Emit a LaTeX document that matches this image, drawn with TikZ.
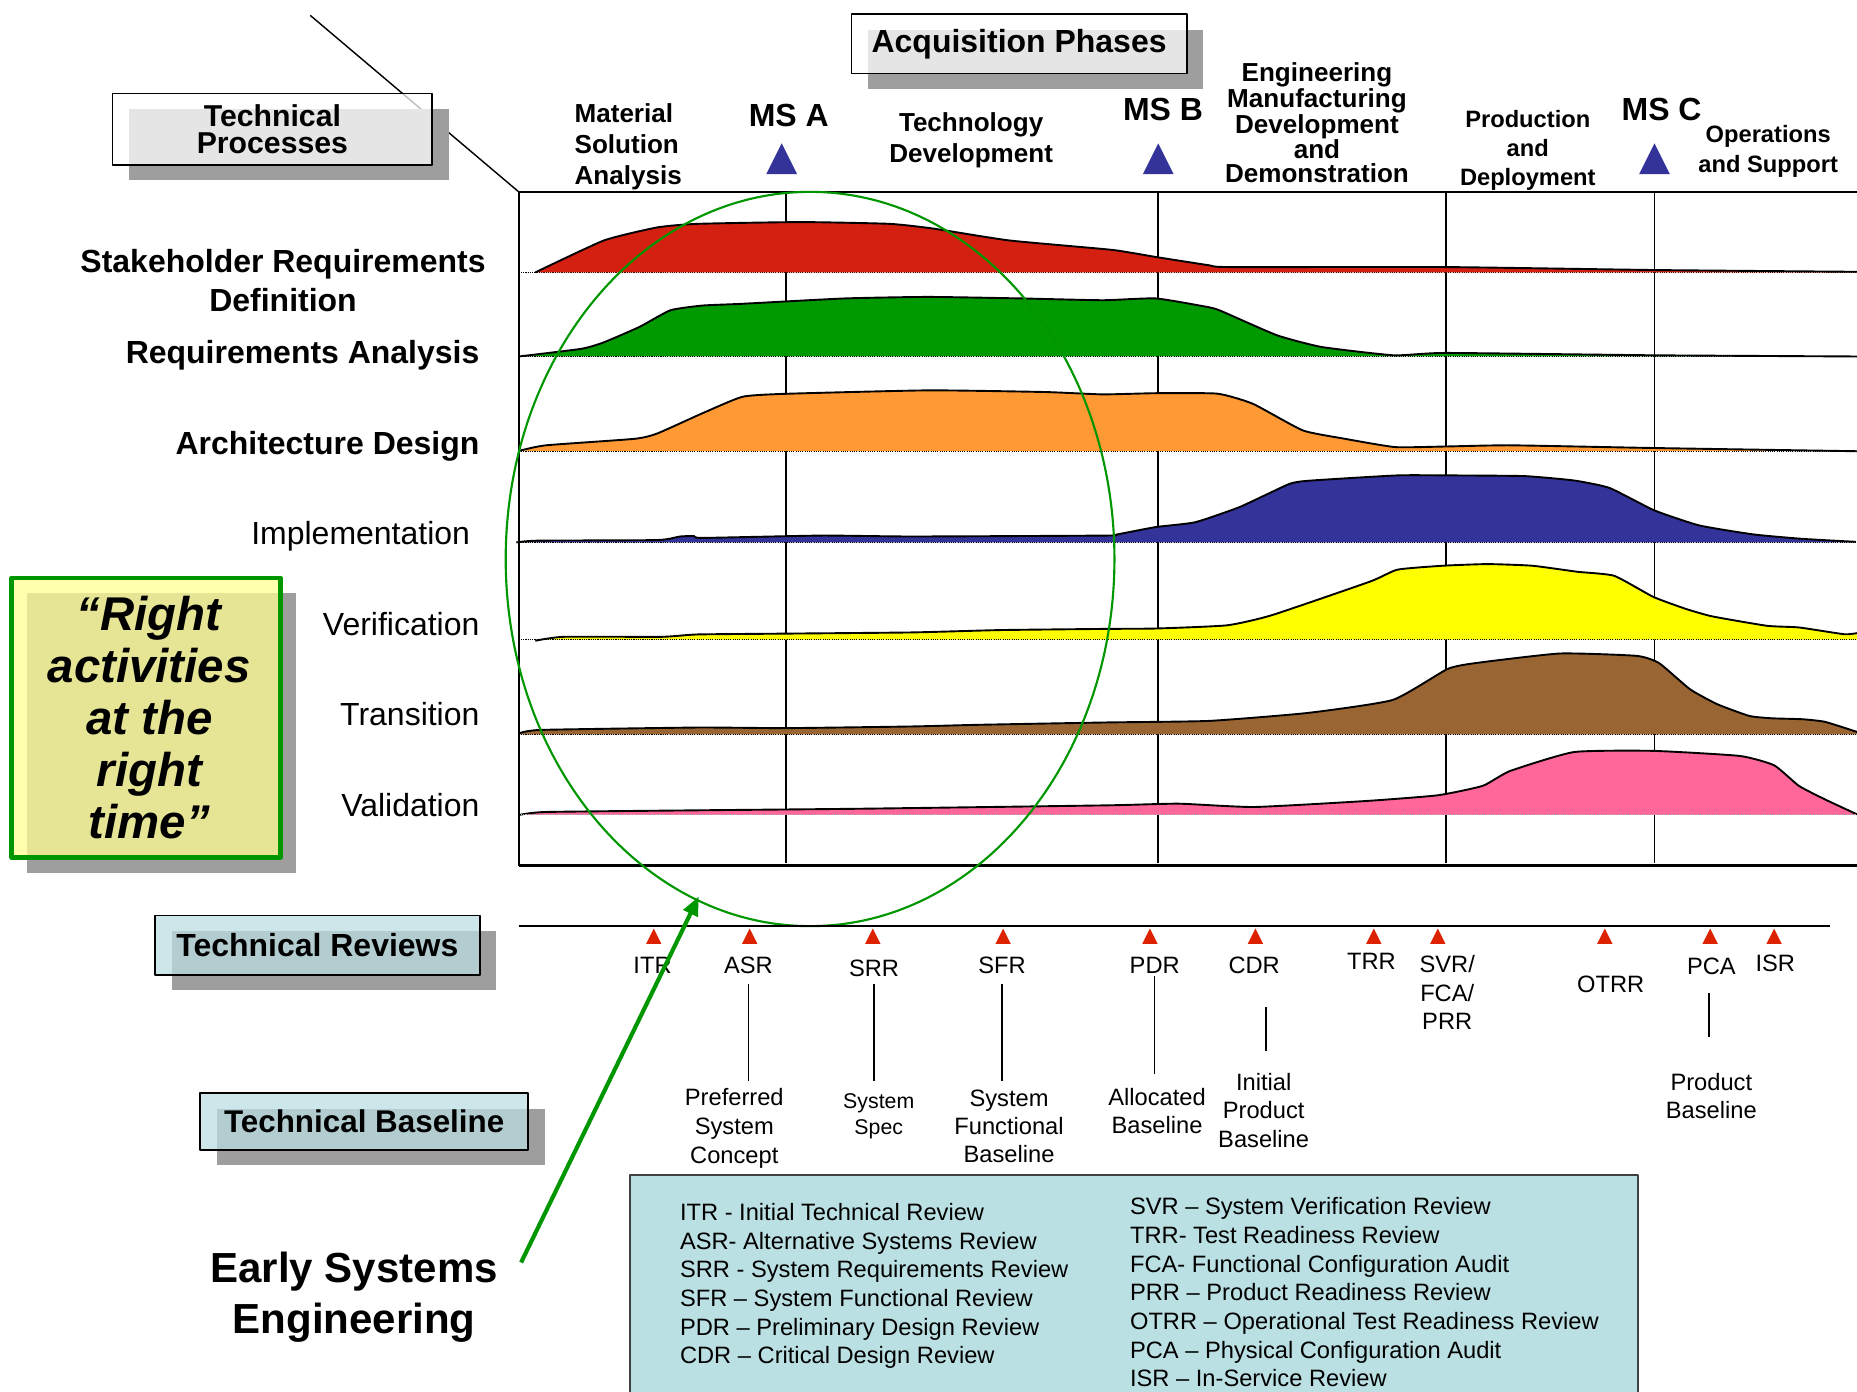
\documentclass[tikz,border=0pt]{standalone}
\usepackage{fontspec}
\setmainfont{Liberation Sans}
\usetikzlibrary{arrows.meta,shadows}
\definecolor{cRed}{RGB}{212,32,16}
\definecolor{cGreen}{RGB}{0,153,0}
\definecolor{cOrange}{RGB}{255,153,51}
\definecolor{cBlue}{RGB}{51,51,153}
\definecolor{cYellow}{RGB}{255,255,0}
\definecolor{cBrown}{RGB}{153,102,51}
\definecolor{cPink}{RGB}{255,102,153}
\definecolor{ringGreen}{RGB}{0,150,0}
\definecolor{shadowGray}{RGB}{158,158,158}
\definecolor{boxBlue}{RGB}{186,221,226}
\definecolor{legendBlue}{RGB}{187,224,227}
\definecolor{noteYellow}{RGB}{255,255,146}
\definecolor{revRed}{RGB}{221,34,0}
\newcommand\myfs[2]{\fontsize{#1pt}{#2pt}\selectfont}
\begin{document}
\begin{tikzpicture}[x=1pt,y=-1pt,line join=round,
  phase/.style={font=\myfs{22}{26.5}\bfseries, align=center, inner sep=0},
  msl/.style={font=\myfs{27}{30}\bfseries, inner sep=0, anchor=base},
  proc/.style={font=\myfs{27}{33}\bfseries, inner sep=0, anchor=base east},
  procr/.style={font=\myfs{27}{33}, inner sep=0, anchor=base east},
  rev/.style={font=\myfs{20}{24}, inner sep=0, anchor=base, align=center},
  bsl/.style={font=\myfs{20}{24}, inner sep=0, anchor=north, align=center},
  legend/.style={font=\myfs{20}{24.2}, inner sep=0, anchor=north west, align=left},
  titlebox/.style={draw=black, line width=1.5pt, fill=#1, fill opacity=.74, text opacity=1,
     font=\myfs{27}{21}\bfseries, align=center, inner sep=0,
     drop shadow={shadow xshift=14pt, shadow yshift=-13pt, fill=shadowGray, opacity=1, fill opacity=1, draw=none}},
  curve/.style={line width=1.6pt},
  frame/.style={line width=1.6pt},
  base/.style={densely dotted, line width=0.9pt},
  conn/.style={line width=1.1pt},
  ]
\useasboundingbox (0,0) rectangle (1568,1175);

% ---- diagonal line and chart frame ----
\coordinate (corner) at (438,162);
\draw[line width=1.2pt] (262,13) -- (corner);
\foreach \x in {664,978,1221,1397} \draw[frame] (\x,162) -- (\x,729);

% ---- process bands ----
\draw[base] (438,230) -- (1568,230);
\fill[cRed] (452,230) -- plot[smooth,tension=.3] coordinates {(452,230) (510,203) (555,192) (589,189) (676,187.5) (751,189) (788,193) (852,203) (939,211) (976,217) (1021,224) (1038,225.5) (1221,225.5) (1397,228) (1568,229.5)} -- (1568,230) -- cycle;
\draw[curve] plot[smooth,tension=.3] coordinates {(452,230) (510,203) (555,192) (589,189) (676,187.5) (751,189) (788,193) (852,203) (939,211) (976,217) (1021,224) (1038,225.5) (1221,225.5) (1397,228) (1568,229.5)};

\fill[cGreen] (438,301) -- plot[smooth,tension=.3] coordinates {(438,301) (491,294.5) (510,289) (540,276) (566,262) (593,258) (627,256.5) (713,252) (784,250.7) (863,252) (931,253.5) (976,252) (1021,259.5) (1032,263) (1078,283) (1116,293) (1177,300) (1221,298) (1397,300) (1568,301)} -- (1568,301) -- cycle;
\draw[curve] plot[smooth,tension=.3] coordinates {(438,301) (491,294.5) (510,289) (540,276) (566,262) (593,258) (627,256.5) (713,252) (784,250.7) (863,252) (931,253.5) (976,252) (1021,259.5) (1032,263) (1078,283) (1116,293) (1177,300) (1221,298) (1397,300) (1568,301)};

\fill[cOrange] (439,381) -- plot[smooth,tension=.3] coordinates {(439,380.5) (461,376) (536,370.5) (555,366) (593,349) (627,335) (664,332.5) (784,329.6) (882,331) (931,333) (976,332) (1028,332.4) (1058,341) (1100,363.4) (1135,370.4) (1178,377.5) (1221,377) (1275,376) (1397,378.3) (1568,381)} -- (1568,381) -- cycle;
\draw[curve] plot[smooth,tension=.3] coordinates {(439,380.5) (461,376) (536,370.5) (555,366) (593,349) (627,335) (664,332.5) (784,329.6) (882,331) (931,333) (976,332) (1028,332.4) (1058,341) (1100,363.4) (1135,370.4) (1178,377.5) (1221,377) (1275,376) (1397,378.3) (1568,381)};

\fill[cBlue] (436,458) -- plot[smooth,tension=.3] coordinates {(436,458) (454,456.5) (555,456) (574,453) (586,452.6) (593,454.2) (694,452.2) (770,453) (935,452.2) (943,451.3) (976,445) (1009,441) (1047,428) (1089,408.5) (1108,405.7) (1180,401.4) (1221,401.4) (1287,402) (1329,405.7) (1359,412) (1397,431) (1435,443.7) (1481,451.3) (1522,455) (1567,457.5)} -- (1567,458) -- cycle;
\draw[curve] plot[smooth,tension=.3] coordinates {(436,458) (454,456.5) (555,456) (574,453) (586,452.6) (593,454.2) (694,452.2) (770,453) (935,452.2) (943,451.3) (976,445) (1009,441) (1047,428) (1089,408.5) (1108,405.7) (1180,401.4) (1221,401.4) (1287,402) (1329,405.7) (1359,412) (1397,431) (1435,443.7) (1481,451.3) (1522,455) (1567,457.5)};

\fill[cYellow] (452,541) -- plot[smooth,tension=.3] coordinates {(452,541) (476,537.7) (559,537.7) (589,535.7) (664,535) (770,534) (845,532) (935,531) (976,530.7) (1036,528) (1074,519.4) (1157,491) (1180,481) (1218,477.7) (1256,476.3) (1294,477.7) (1332,482.8) (1363,486.2) (1396,504) (1424,514.3) (1446,520.5) (1492,528.4) (1519,529.8) (1557,535.5) (1568,534.6)} -- (1568,540) -- (452,540) -- cycle;
\draw[curve] plot[smooth,tension=.3] coordinates {(452,541) (476,537.7) (559,537.7) (589,535.7) (664,535) (770,534) (845,532) (935,531) (976,530.7) (1036,528) (1074,519.4) (1157,491) (1180,481) (1218,477.7) (1256,476.3) (1294,477.7) (1332,482.8) (1363,486.2) (1396,504) (1424,514.3) (1446,520.5) (1492,528.4) (1519,529.8) (1557,535.5) (1568,534.6)};

\fill[cBrown] (439,620) -- plot[smooth,tension=.3] coordinates {(439,619) (457,616.3) (589,614.3) (664,614.8) (770,613.4) (826,612) (935,610) (1021,608.7) (1104,602) (1176,591) (1222,565) (1245,560) (1317,551.8) (1382,553.8) (1401,560) (1427,582) (1450,594.6) (1477,604.5) (1496,606.5) (1522,607.3) (1541,609.5) (1568,618)} -- (1568,620) -- cycle;
\draw[curve] plot[smooth,tension=.3] coordinates {(439,619) (457,616.3) (589,614.3) (664,614.8) (770,613.4) (826,612) (935,610) (1021,608.7) (1104,602) (1176,591) (1222,565) (1245,560) (1317,551.8) (1382,553.8) (1401,560) (1427,582) (1450,594.6) (1477,604.5) (1496,606.5) (1522,607.3) (1541,609.5) (1568,618)};

\fill[cPink] (439,688) -- plot[smooth,tension=.3] coordinates {(439,688) (461,685.6) (589,684.2) (732,682.8) (935,680) (995,678.6) (1059,681.4) (1154,676.3) (1214,671.5) (1252,663.5) (1275,651) (1329,635) (1396,634) (1469,638.3) (1498,646.2) (1519,663.6) (1541,675) (1568,687.6)} -- (1568,688) -- cycle;
\draw[curve] plot[smooth,tension=.3] coordinates {(439,688) (461,685.6) (589,684.2) (732,682.8) (935,680) (995,678.6) (1059,681.4) (1154,676.3) (1214,671.5) (1252,663.5) (1275,651) (1329,635) (1396,634) (1469,638.3) (1498,646.2) (1519,663.6) (1541,675) (1568,687.6)};

\foreach \y in {301,381,458,540,620} \draw[base] (438,\y) -- (1568,\y);
\draw[base, white!70!black] (438,688) -- (1568,688);

\draw[frame] (438,162) -- (1568,162);
\draw[frame] (438,162) -- (438,731);
\draw[line width=2.4pt] (438,731) -- (1568,731);

% ---- early SE ellipse ----
\draw[ringGreen, line width=1.8pt] (684,472) ellipse [x radius=257pt, y radius=310pt];

% ---- acquisition phase header ----
\node[titlebox=white, minimum width=283pt, minimum height=50pt] (acq) at (860.5,37) {Acquisition Phases};
\node[phase, anchor=north west, align=left] (msa) at (485,87) {Material\\Solution\\Analysis};
\node[msl] (msA) at (666,106.5) {MS A};
\node[phase, anchor=north, font=\myfs{22}{26}\bfseries] (tdev) at (820,95) {Technology\\Development};
\node[msl] (msB) at (982,101.5) {MS B};
\node[phase, anchor=north, font=\myfs{22}{20}\bfseries] (emd) at (1112,53) {Engineering\\Manufacturing\\Development\\and\\Demonstration};
\node[phase, anchor=north, font=\myfs{20}{24.5}\bfseries] (pdep) at (1290,93) {Production\\and\\Deployment};
\node[msl] (msC) at (1403,101.5) {MS C};
\node[phase, anchor=north, font=\myfs{20}{25}\bfseries] (ops) at (1493,106) {Operations\\and Support};
\fill[cBlue] (647,147) -- (660,121) -- (673,147) -- cycle;
\fill[cBlue] (965,147) -- (978,121) -- (991,147) -- cycle;
\fill[cBlue] (1384,147) -- (1397,121) -- (1410,147) -- cycle;

% ---- technical processes ----
\node[titlebox=white, minimum width=270pt, minimum height=60pt, font=\myfs{25.5}{22.5}\bfseries] (tp) at (230,109) {Technical\\Processes};
\node[proc, anchor=north, align=center] (stk) at (239,210) {Stakeholder Requirements\\Definition};
\node[proc] (ra) at (405,306.7) {Requirements Analysis};
\node[proc] (ad) at (405,383.7) {Architecture Design};
\node[procr] (impl) at (397,459.7) {Implementation};
\node[procr] (ver) at (405,536.7) {Verification};
\node[procr] (tra) at (405,612.7) {Transition};
\node[procr] (val) at (405,689.7) {Validation};

% ---- right activities note ----
\node[draw=ringGreen, line width=4pt, fill=noteYellow, fill opacity=.74, text opacity=1,
      minimum width=227pt, minimum height=236pt, inner sep=0, align=center,
      font=\myfs{40}{44}\bfseries\itshape,
      drop shadow={shadow xshift=13pt, shadow yshift=-13pt, fill=shadowGray, opacity=1, fill opacity=1, draw=none}]
      (rat) at (123.5,606) {\hspace*{5pt}“Right\\\hspace*{5pt}activities\\\hspace*{5pt}at the\\\hspace*{5pt}right\\\hspace*{5pt}time”};

% ---- technical reviews ----
\node[titlebox=boxBlue, minimum width=274pt, minimum height=50pt, font=\myfs{27}{30}\bfseries] (trev) at (268,798) {Technical Reviews};
\node[titlebox=boxBlue, minimum width=277pt, minimum height=48pt, font=\myfs{26.5}{30}\bfseries, line width=1.2pt] (tbase) at (307.5,947) {Technical Baseline};

\draw[line width=2pt] (438,782) -- (1545,782);
\foreach \x in {552,633,737,847,971,1060,1160,1214,1355,1444,1498}
  \fill[revRed] (\x-6.5,797) -- (\x,784) -- (\x+6.5,797) -- cycle;

\node[rev] (itr) at (551,821.6) {ITR};
\node[rev] (asr) at (632,822.2) {ASR};
\node[rev] (srr) at (738,824.2) {SRR};
\node[rev] (sfr) at (846,822.2) {SFR};
\node[rev] (pdr) at (975,822.2) {PDR};
\node[rev] (cdr) at (1059,822.2) {CDR};
\node[rev] (trr) at (1158,818.8) {TRR};
\node[rev, anchor=north] (svr) at (1222,806.8) {SVR/\\FCA/\\PRR};
\node[rev] (otrr) at (1360,838.2) {OTRR};
\node[rev] (pca) at (1445,822.5) {PCA};
\node[rev] (isr) at (1499,820.5) {ISR};

\node[bsl, font=\myfs{20}{24.5}] (pref) at (620,918.5) {Preferred\\System\\Concept};
\node[bsl, font=\myfs{18}{21.5}] (spec) at (742,923.5) {System\\Spec};
\node[bsl] (sfb) at (852,919.8) {System\\Functional\\Baseline};
\node[bsl] (alloc) at (977,918.5) {Allocated\\Baseline};
\node[bsl] (init) at (1067,905.8) {Initial\\Product\\Baseline};
\node[bsl] (prodb) at (1445,905.8) {Product\\Baseline};

\draw[conn, shorten <=8pt, shorten >=5.5pt] (asr.south) -- (asr.south |- pref.north);
\draw[conn, shorten <=6pt, shorten >=10.5pt] (srr.south) -- (srr.south |- spec.north);
\draw[conn, shorten <=8pt, shorten >=7pt] (sfr.south) -- (sfr.south |- sfb.north);
\draw[conn, shorten <=2pt, shorten >=11.5pt] (pdr.south) -- (pdr.south |- alloc.north);
\draw[conn, shorten <=18pt, shorten >=28pt] ([xshift=2pt]init.north) -- ([xshift=2pt]init.north |- cdr.south);
\draw[conn, shorten <=15.5pt, shorten >=30pt] ([xshift=-2pt]pca.south) -- ([xshift=-2pt]pca.south |- prodb.north);

% ---- early systems engineering ----
\node[font=\myfs{35.5}{43}\bfseries, align=center, inner sep=0, anchor=north] (ese) at (299,1057) {Early Systems\\Engineering};
\coordinate (arrS) at (440,1066);
\coordinate (arrE) at (590,757);
\draw[ringGreen, line width=3.5pt, -{Triangle[length=16pt,width=13pt]}] (arrS) -- (arrE);

% ---- legend ----
\draw[draw=black!75, line width=2pt, fill=legendBlue] (532,992) rectangle (1383,1185);
\node[legend] (legL) at (574,1016) {ITR - Initial Technical Review\\ASR- Alternative Systems Review\\SRR - System Requirements Review\\SFR – System Functional Review\\PDR – Preliminary Design Review\\CDR – Critical Design Review};
\node[legend] (legR) at (954,1011) {SVR – System Verification Review\\TRR- Test Readiness Review\\FCA- Functional Configuration Audit\\PRR – Product Readiness Review\\OTRR – Operational Test Readiness Review\\PCA – Physical Configuration Audit\\ISR – In-Service Review};
\end{tikzpicture}
\end{document}
